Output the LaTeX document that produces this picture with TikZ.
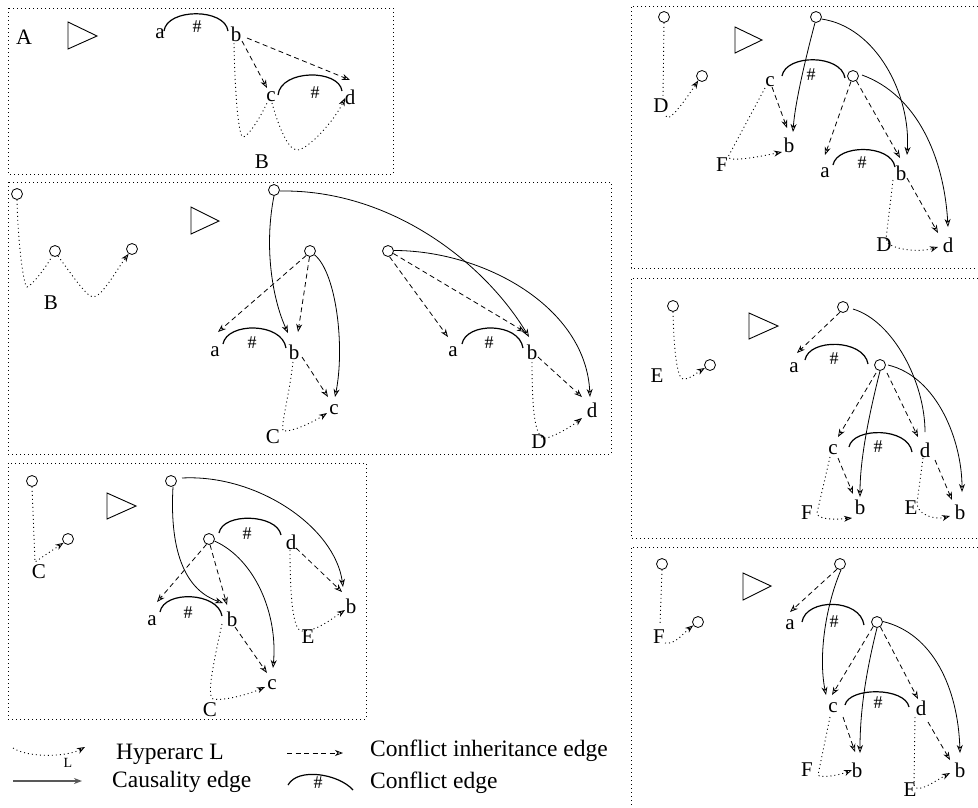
\documentclass[tikz,border=0pt]{standalone}
\usepackage{fontspec}
\setmainfont{Liberation Serif}
\usetikzlibrary{arrows.meta,calc}

\tikzset{
  lbl/.style={font=\fontsize{21}{21}\selectfont, inner sep=1pt},
  biglbl/.style={font=\fontsize{22}{22}\selectfont, inner sep=1pt},
  st/.style={circle, draw, line width=0.8pt, minimum size=11pt, inner sep=0pt},
  hsh/.style={font=\fontsize{18}{18}\selectfont, inner sep=0pt},
  opentip/.style={-{Stealth[open, length=8pt, width=6pt, inset=2.5pt]}},
  cause/.style={opentip, line width=0.8pt},
  inherit/.style={opentip, line width=0.8pt, dash pattern=on 5pt off 3.5pt},
  hyper/.style={opentip, line width=0.9pt, dash pattern=on 1pt off 3pt},
  conflict/.style={line width=1.2pt},
  frame/.style={line width=0.9pt, dash pattern=on 1pt off 3pt},
  play/.style={line width=0.9pt},
  legendtxt/.style={font=\fontsize{23.5}{24}\selectfont, inner sep=0pt, anchor=base west},
}

\begin{document}
\begin{tikzpicture}[x=1pt, y=-1pt]
\useasboundingbox (0,0) rectangle (978,807);

% ---------------- box A ----------------
\draw[frame] (8,8) rectangle (393,174);
\node[biglbl] (A-lbl) at (24,37) {A};
\draw[play] (68,22) -- (97,36) -- (68,49) -- cycle;
\node[lbl] (A-a) at (160,34) {a};
\node[lbl] (A-b) at (236,34) {b};
\node[lbl] (A-c) at (271,97) {c};
\node[lbl] (A-d) at (350,97) {d};
\node[lbl] (A-B) at (262,162) {B};
\draw[conflict] ($(A-a)+(4,-3)$) .. controls +(3,-23) and +(-3,-23) .. ($(A-b)+(-8,-3)$)
  node[hsh, midway, xshift=1pt, yshift=-13pt] (A-h1) {\#};
\draw[conflict] ($(A-c)+(7,-2)$) .. controls +(3,-26) and +(-3,-22) .. ($(A-d)+(-8,-6)$)
  node[hsh, midway, xshift=5pt, yshift=-18pt] (A-h2) {\#};
\draw[inherit] ($(A-b)+(6,7)$) -- ($(A-c)+(-4,-9)$);
\draw[inherit] ($(A-b)+(11,4)$) -- ($(A-d)+(0,-17)$);
\draw[hyper] ($(A-b)+(-2,9)$) .. controls +(1,57) and +(-4,0) .. ($(A-B)+(-19,-25)$)
  .. controls +(5,0) and +(-7,15) .. ($(A-c)+(-4,6)$)
  ($(A-c)+(1,6)$) .. controls +(6,22) and +(-9,0) .. ($(A-B)+(35,-12)$)
  .. controls +(11,0) and +(-10,22) .. ($(A-d)+(-5,1)$);

% ---------------- box B ----------------
\draw[frame] (8,182) rectangle (611,454);
\node[st] (B-s1) at (17,194) {};
\node[st] (B-s2) at (55,251) {};
\node[st] (B-s3) at (132,249) {};
\node[lbl] (B-B) at (51,303) {B};
\draw[hyper] (B-s1.-90) .. controls +(1,46) and +(-3,0) .. ($(B-B)+(-24,-16)$)
  .. controls +(6,-2) and +(-4,8) .. (B-s2.-120)
  (B-s2.-60) .. controls +(8,10) and +(-7,0) .. ($(B-B)+(42,-6)$)
  .. controls +(9,0) and +(-12,16) .. (B-s3.-125);
\draw[play] (191,207) -- (219,221) -- (191,234) -- cycle;

\node[st] (B-t) at (274,190) {};
\node[st] (B-u) at (310,251) {};
\node[lbl] (B-a) at (215,352) {a};
\node[lbl] (B-b) at (294,352) {b};
\node[lbl] (B-c) at (334,410) {c};
\node[lbl] (B-C) at (273,437) {C};
\node[st] (B-v) at (388,251) {};
\node[lbl] (B-a2) at (453,352) {a};
\node[lbl] (B-b2) at (532,352) {b};
\node[lbl] (B-d) at (592,410) {d};
\node[lbl] (B-D) at (539,442) {D};

\draw[cause] (B-t.-90) .. controls +(-10,50) and +(-16,-35) .. ($(B-b)+(-6,-19)$);
\draw[inherit] (B-u.-130) -- ($(B-a)+(3,-20)$);
\draw[inherit] (B-u.-95) -- ($(B-b)+(4,-20)$);
\draw[cause] (B-u.-40) .. controls +(22,18) and +(10,-50) .. ($(B-c)+(1,-13)$);
\draw[conflict] ($(B-a)+(8,-8)$) .. controls +(4,-22) and +(-4,-26) .. ($(B-b)+(-8,-4)$)
  node[hsh, midway, xshift=-2.5pt, yshift=-15pt] (B-h1) {\#};
\draw[inherit] ($(B-b)+(8,5)$) -- ($(B-c)+(-6,-13)$);
\draw[hyper] ($(B-b)+(-1,10)$) .. controls +(-4,35) and +(-2,-8) .. ($(B-C)+(10,-6)$)
  .. controls +(10,1) and +(-12,8) .. ($(B-c)+(-7,3)$);

\draw[inherit] (B-v.-75) -- ($(B-a2)+(-5,-15)$);
\draw[inherit] (B-v.-25) -- ($(B-b2)+(-7,-20)$);
\draw[cause] (B-v.5) .. controls +(90,0) and +(-4,-90) .. ($(B-d)+(-2,-13)$);
\draw[cause] (B-t.-10) .. controls +(110,-2) and +(-45,-75) .. ($(B-b2)+(-3,-15)$);
\draw[conflict] ($(B-a2)+(9,-8)$) .. controls +(4,-22) and +(-4,-26) .. ($(B-b2)+(-9,-4)$)
  node[hsh, midway, xshift=-3.5pt, yshift=-15pt] (B-h2) {\#};
\draw[inherit] ($(B-b2)+(6,5)$) -- ($(B-d)+(-10,-13)$);
\draw[hyper] ($(B-b2)+(0,10)$) .. controls +(0,50) and +(-12,4) .. ($(B-D)+(8,-4)$)
  .. controls +(12,-4) and +(-10,8) .. ($(B-d)+(-10,8)$);

% ---------------- box C ----------------
\draw[frame] (8,463) rectangle (366,719);
\node[st] (C-s1) at (32,481) {};
\node[st] (C-s2) at (68,539) {};
\node[lbl] (C-C) at (39,572) {C};
\draw[hyper] (C-s1.-90) -- ($(C-C)+(-4,-10)$) -- (C-s2.-140);
\draw[play] (107,493) -- (136,506) -- (107,519) -- cycle;

\node[st] (C-t) at (171,481) {};
\node[st] (C-u) at (209,539) {};
\node[lbl] (C-d) at (291,542) {d};
\node[lbl] (C-a) at (152,621) {a};
\node[lbl] (C-b) at (232,619) {b};
\node[lbl] (C-b2) at (351,606) {b};
\node[lbl] (C-E) at (308,637) {E};
\node[lbl] (C-c) at (272,685) {c};
\node[lbl] (C-C2) at (210,710) {C};

\draw[cause] (C-t.-70) .. controls +(-4,70) and +(-35,-12) .. ($(C-b)+(-9,-16)$);
\draw[cause] ($(C-t)+(11,-3)$) .. controls +(75,-4) and +(-8,-60) .. ($(C-b2)+(-8,-19)$);
\draw[conflict] ($(C-u)+(10,-6)$) .. controls +(4,-21) and +(-4,-21) .. ($(C-d)+(-10,-7)$)
  node[hsh, midway, xshift=-3pt, yshift=-15pt] (C-h1) {\#};
\draw[inherit] (C-u.-115) -- ($(C-a)+(5,-19)$);
\draw[inherit] (C-u.-80) -- ($(C-b)+(-5,-14)$);
\draw[cause] (C-u.-20) .. controls +(40,18) and +(5,-55) .. ($(C-c)+(1,-17)$);
\draw[conflict] ($(C-a)+(8,-9)$) .. controls +(4,-22) and +(-4,-24) .. ($(C-b)+(-10,-3)$)
  node[hsh, midway, xshift=-3pt, yshift=-16pt] (C-h2) {\#};
\draw[inherit] ($(C-b)+(3,8)$) -- ($(C-c)+(-5,-12)$);
\draw[inherit] ($(C-d)+(5,6)$) -- ($(C-b2)+(-9,-14)$);
\draw[hyper] ($(C-d)+(-1,8)$) .. controls +(0,55) and +(-8,0) .. ($(C-E)+(-6,-6)$)
  .. controls +(15,0) and +(-15,10) .. ($(C-b2)+(-6,4)$);
\draw[hyper] ($(C-b)+(-10,5)$) .. controls +(-10,45) and +(-6,-3) .. ($(C-C2)+(3,-11)$)
  .. controls +(10,2) and +(-18,8) .. ($(C-c)+(-7,2)$);

% ---------------- box D ----------------
\draw[frame] (978,6) -- (631,6) -- (631,268) -- (978,268);
\node[st] (D-s1) at (664,17) {};
\node[st] (D-s2) at (702,76) {};
\node[lbl] (D-D) at (661,106) {D};
\draw[hyper] (D-s1.-90) -- ($(D-D)+(2,-9)$)
  ($(D-D)+(5,10)$) .. controls +(2,8) and +(-13,20) .. (D-s2.-130);
\draw[play] (735,27) -- (762,40) -- (735,53) -- cycle;

\node[st] (D-t) at (816,17) {};
\node[lbl] (D-c) at (770,82) {c};
\node[st] (D-u) at (853,76) {};
\node[lbl] (D-bl) at (789,145) {b};
\node[lbl] (D-F) at (722,165) {F};
\node[lbl] (D-a) at (825,173) {a};
\node[lbl] (D-b) at (901,173) {b};
\node[lbl] (D-D2) at (884,245) {D};
\node[lbl] (D-d) at (948,245) {d};

\draw[conflict] ($(D-c)+(12,-6)$) .. controls +(4,-22) and +(-4,-24) .. ($(D-u)+(-8,2)$)
  node[hsh, midway, xshift=-2.5pt, yshift=-15pt] (D-h1) {\#};
\draw[conflict] ($(D-a)+(8,-8)$) .. controls +(4,-21) and +(-4,-23) .. ($(D-b)+(-6,-6)$)
  node[hsh, midway, xshift=-2pt, yshift=-13.5pt] (D-h2) {\#};
\draw[cause] (D-t.-100) .. controls +(-8,30) and +(2,-30) .. ($(D-bl)+(4,-13)$);
\draw[cause] (D-t.-20) .. controls +(55,8) and +(4,-60) .. ($(D-b)+(6,-18)$);
\draw[cause] ($(D-u)+(9,-1)$) .. controls +(55,20) and +(-4,-70) .. ($(D-d)+(0,-18)$);
\draw[inherit] ($(D-c)+(2,5)$) -- ($(D-bl)+(-2,-17)$);
\draw[inherit] (D-u.-110) -- ($(D-a)+(0,-18)$);
\draw[inherit] (D-u.-55) -- ($(D-b)+(-1,-15)$);
\draw[inherit] ($(D-b)+(6,5)$) -- ($(D-d)+(-10,-12)$);
\draw[hyper] ($(D-c)+(-5,6)$) -- ($(D-F)+(6,-8)$)
  .. controls +(2,6) and +(-15,3) .. ($(D-bl)+(-7,7)$);
\draw[hyper] ($(D-b)+(-8,7)$) -- ($(D-D2)+(2,-6)$)
  .. controls +(0,10) and +(-20,6) .. ($(D-d)+(-10,2)$);

% ---------------- box E ----------------
\draw[frame] (978,278) -- (631,278) -- (631,538) -- (978,538);
\node[st] (E-s1) at (673,306) {};
\node[st] (E-s2) at (710,365) {};
\node[lbl] (E-E) at (657,376) {E};
\draw[hyper] (E-s1.-90) .. controls +(1,45) and +(-5,0) .. ($(E-E)+(26,3)$)
  .. controls +(8,0) and +(-10,6) .. (E-s2.-150);
\draw[play] (749,313) -- (778,326) -- (749,339) -- cycle;

\node[st] (E-t) at (843,307) {};
\node[lbl] (E-a) at (794,368) {a};
\node[st] (E-u) at (880,365) {};
\node[lbl] (E-c) at (833,450) {c};
\node[lbl] (E-d) at (925,450) {d};
\node[lbl] (E-bl) at (860,507) {b};
\node[lbl] (E-br) at (960,512) {b};
\node[lbl] (E-F) at (807,513) {F};
\node[lbl] (E-E2) at (911,508) {E};

\draw[inherit] (E-t.-120) -- ($(E-a)+(3,-15)$);
\draw[line width=0.8pt] ($(E-t)+(10,2)$) .. controls +(40,12) and +(0,-50) .. ($(E-d)+(0,-18)$);
\draw[conflict] ($(E-a)+(11,-8)$) .. controls +(4,-22) and +(-4,-25) .. ($(E-u)+(-12,-1)$)
  node[hsh, midway, xshift=-2.5pt, yshift=-14.5pt] (E-h1) {\#};
\draw[inherit] ($(E-u)+(-4,8)$) -- ($(E-c)+(5,-13)$);
\draw[cause] (E-u.-90) .. controls +(-10,40) and +(0,-40) .. ($(E-bl)+(0,-10)$);
\draw[inherit] ($(E-u)+(7,8)$) -- ($(E-d)+(-7,-13)$);
\draw[cause] ($(E-u)+(8,0)$) .. controls +(50,12) and +(0,-50) .. ($(E-br)+(2,-20)$);
\draw[conflict] ($(E-c)+(16,-3)$) .. controls +(4,-20) and +(-4,-25) .. ($(E-d)+(-13,2)$)
  node[hsh, midway, xshift=-2.5pt, yshift=-14.4pt] (E-h2) {\#};
\draw[inherit] ($(E-c)+(5,8)$) -- ($(E-bl)+(-7,-13)$);
\draw[inherit] ($(E-d)+(10,10)$) -- ($(E-br)+(-8,-12)$);
\draw[hyper] ($(E-c)+(-3,7)$) -- ($(E-F)+(10,0)$)
  .. controls +(0,6) and +(-20,2) .. ($(E-bl)+(-8,11)$);
\draw[hyper] ($(E-d)+(-2,8)$) -- ($(E-E2)+(6,-5)$)
  .. controls +(0,12) and +(-15,4) .. ($(E-br)+(-10,4)$);

% ---------------- box F ----------------
\draw[frame] (978,547) -- (631,547) -- (631,807);
\node[st] (F-s1) at (662,564) {};
\node[st] (F-s2) at (698,622) {};
\node[lbl] (F-F) at (659,637) {F};
\draw[hyper] (F-s1.-90) -- ($(F-F)+(1,-12)$)
  ($(F-F)+(6,6)$) .. controls +(10,2) and +(-10,8) .. (F-s2.-145);
\draw[play] (743,573) -- (771,586) -- (743,600) -- cycle;

\node[st] (F-t) at (840,564) {};
\node[lbl] (F-a) at (790,625) {a};
\node[st] (F-u) at (877,622) {};
\node[lbl] (F-c) at (833,708) {c};
\node[lbl] (F-d) at (921,708) {d};
\node[lbl] (F-bl) at (857,770) {b};
\node[lbl] (F-br) at (960,770) {b};
\node[lbl] (F-F2) at (807,770) {F};
\node[lbl] (F-E) at (910,790) {E};

\draw[inherit] (F-t.-120) -- ($(F-a)+(0,-13)$);
\draw[cause] (F-t.-80) .. controls +(-15,35) and +(-8,-40) .. ($(F-c)+(-7,-13)$);
\draw[conflict] ($(F-a)+(12,-3)$) .. controls +(4,-24) and +(-4,-27) .. ($(F-u)+(-13,3)$)
  node[hsh, midway, xshift=1pt, yshift=-17.5pt] (F-h1) {\#};
\draw[inherit] (F-u.-130) -- ($(F-c)+(-1,-13)$);
\draw[cause] (F-u.-90) .. controls +(-10,40) and +(0,-45) .. ($(F-bl)+(3,-17)$);
\draw[inherit] (F-u.-55) -- ($(F-d)+(-3,-9)$);
\draw[cause] (F-u.5) .. controls +(50,12) and +(-2,-65) .. ($(F-br)+(0,-17)$);
\draw[conflict] ($(F-c)+(12,-3)$) .. controls +(4,-18) and +(-4,-20) .. ($(F-d)+(-12,-1)$)
  node[hsh, midway, xshift=1pt, yshift=-11pt] (F-h2) {\#};
\draw[inherit] ($(F-c)+(10,9)$) -- ($(F-bl)+(-2,-18)$);
\draw[inherit] ($(F-d)+(7,14)$) -- ($(F-br)+(-10,-10)$);
\draw[hyper] ($(F-c)+(-3,9)$) -- ($(F-F2)+(11,5)$)
  .. controls +(2,3) and +(-15,6) .. ($(F-bl)+(-5,0)$);
\draw[hyper] ($(F-d)+(-6,9)$) -- ($(F-E)+(4,-5)$)
  .. controls +(2,10) and +(-15,8) .. ($(F-br)+(-10,3)$);

% ---------------- legend ----------------
\coordinate (Lh-s) at (13,748);
\coordinate (Lh-e) at (85,747);
\draw[hyper] (Lh-s) .. controls +(15,10) and +(-18,10) .. (Lh-e);
\node[font=\fontsize{14}{14}\selectfont, inner sep=0pt] (Lh-L) at (68,763) {L};
\node[legendtxt] (Lh-t) at (116,759) {Hyperarc L};

\coordinate (Lc-s) at (13,781);
\coordinate (Lc-e) at (82,781);
\draw[cause, line width=1.5pt, draw=black!65] (Lc-s) -- (Lc-e);
\node[legendtxt] (Lc-t) at (112,787) {Causality edge};

\coordinate (Li-s) at (287,753);
\coordinate (Li-e) at (343,753);
\draw[inherit] (Li-s) -- (Li-e);
\node[legendtxt] (Li-t) at (370,756) {Conflict inheritance edge};

\coordinate (Lk-s) at (288,785);
\coordinate (Lk-e) at (353,790);
\draw[conflict] (Lk-s) .. controls +(10,-18) and +(-14,-16) .. (Lk-e)
  node[hsh, midway, xshift=-1pt, yshift=-8pt] (Lk-h) {\#};
\node[legendtxt] (Lk-t) at (370,788) {Conflict edge};
\end{tikzpicture}
\end{document}
